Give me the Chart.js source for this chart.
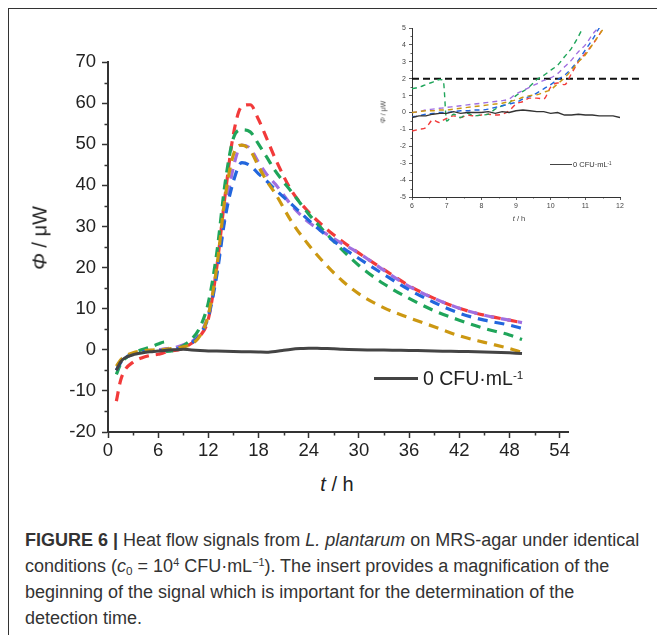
<!DOCTYPE html>
<html>
<head>
<meta charset="utf-8">
<script src="https://cdn.jsdelivr.net/npm/chart.js@4.4.1/dist/chart.umd.min.js"></script>
<style>
  html, body { margin: 0; padding: 0; background: #fff; }
  body { width: 657px; height: 635px; position: relative; overflow: hidden; font-family: "Liberation Sans", Arial, sans-serif; color: #222; }
  .frame { position: absolute; left: 8px; top: 8px; width: 700px; height: 700px; border-left: 1.5px solid #333; border-top: 1.5px solid #333; }
  canvas { position: absolute; }
  #main { left: 0; top: 0; }
  #inset { left: 360px; top: 10px; }
  .lbl { position: absolute; white-space: nowrap; }
  .ytitle { left: 40px; top: 238px; font-size: 20px; transform: translate(-50%, -50%) rotate(-90deg); }
  .xtitle { left: 337px; top: 484px; font-size: 20px; transform: translate(-50%, -50%); }
  .ytitle-s { left: 383px; top: 112px; font-size: 7px; transform: translate(-50%, -50%) rotate(-90deg); color: #444; }
  .xtitle-s { left: 519px; top: 218px; font-size: 7.5px; transform: translate(-50%, -50%); color: #444; }
  .leg { position: absolute; display: flex; align-items: center; white-space: nowrap; }
  .leg .ln { display: inline-block; background: #444; }
  sup { font-size: 0.6em; vertical-align: 0.55em; line-height: 0; }
  sub { font-size: 0.65em; vertical-align: -0.25em; line-height: 0; }
  .caption { position: absolute; left: 25px; top: 527px; font-size: 18px; line-height: 26px; color: #333; white-space: nowrap; }
</style>
</head>
<body>
<div class="frame"></div>
<canvas id="main" width="657" height="470"></canvas>
<canvas id="inset" width="290" height="220"></canvas>

<div class="lbl ytitle"><i>Φ</i> / μW</div>
<div class="lbl xtitle"><i>t</i> / h</div>
<div class="leg" style="left:374px; top:367px; font-size:19.5px; color:#222;">
  <span class="ln" style="width:44px; height:3.5px; margin-right:5px;"></span><span>0 CFU·mL<sup>-1</sup></span>
</div>

<div class="lbl ytitle-s"><i>Φ</i> / μW</div>
<div class="lbl xtitle-s"><i>t</i> / h</div>
<div class="leg" style="left:550px; top:160px; font-size:7.5px; color:#333;">
  <span class="ln" style="width:22px; height:1.5px; margin-right:1px;"></span><span>0 CFU·mL<sup>-1</sup></span>
</div>

<div class="caption">
  <b>FIGURE 6 |</b> Heat flow signals from <i>L. plantarum</i> on MRS-agar under identical<br>
  conditions (<i>c</i><sub>0</sub> = 10<sup>4</sup> CFU·mL<sup>−1</sup>). The insert provides a magnification of the<br>
  beginning of the signal which is important for the determination of the<br>
  detection time.
</div>

<script>
// main plot: heat flow over time (h)
const hours = [1, 1.5, 2, 3, 4, 5, 6, 6.8, 7, 8, 9, 10, 11, 12, 13, 14, 15, 16, 17, 18, 19, 20, 22, 24, 26, 28, 30, 33, 36, 39, 42, 45, 48, 49.5];
const red = [-12.5, -7.5, -5, -3, -2, -1.4, -1.1, -0.6, -0.3, -0.15, 0.4, 1.6, 3.3, 7.5, 20, 37.5, 52.5, 59.2, 59.6, 56, 51.3, 46.5, 38.5, 33.5, 29.6, 26.4, 23.5, 19.5, 15.6, 12.5, 10.1, 8.4, 7.2, 6.6];
const green = [-6, -3.5, -2.2, -0.8, 0, 0.6, 1.4, 1.9, -0.4, -0.1, 1.0, 2.6, 5.5, 11.5, 23.5, 40.5, 51.5, 53.5, 53, 50, 46.8, 43.5, 38.3, 33, 28.5, 24.3, 20.5, 16, 12.5, 9.5, 7.2, 5.2, 3.6, 2.5];
const purple = [-5, -3, -2, -0.9, -0.4, -0.2, 0, 0.25, 0.3, 0.55, 1.2, 2.0, 3.9, 8.5, 19, 33, 44.5, 49.8, 49, 45.6, 42.6, 40.3, 35, 31, 28.3, 25.8, 23.5, 19.3, 15.4, 12.5, 10.1, 8.4, 7.2, 6.6];
const blue = [-5, -3.2, -2.1, -1, -0.5, -0.35, -0.25, -0.05, 0, 0.15, 0.6, 1.65, 3.7, 8, 18, 32, 41, 45.5, 44.8, 42.8, 41, 39, 35.3, 31.5, 28, 24.9, 22.2, 18.3, 14.6, 11.5, 8.9, 7.2, 6, 5.2];
const orange = [-4, -2.5, -1.6, -0.7, -0.3, -0.1, 0, 0.1, 0.15, 0.4, 0.75, 1.35, 3.4, 8.5, 20, 37, 47.5, 49.8, 48.5, 44.6, 41, 38, 31, 25.5, 20.8, 16.8, 13.6, 10.2, 7.8, 5.6, 3.4, 1.8, 0.3, -0.6];
const blankHours = [1, 1.5, 2, 3, 4, 5, 6, 7, 8, 9, 10, 11, 12, 14, 16, 18, 19, 20, 21, 22, 23, 24, 25, 26, 27, 28, 30, 32, 34, 36, 38, 40, 42, 44, 46, 48, 49.5];
const blank = [-5, -3, -2, -1.2, -0.8, -0.5, -0.3, -0.1, 0, 0.1, -0.05, -0.2, -0.3, -0.35, -0.45, -0.55, -0.6, -0.4, -0.1, 0.15, 0.3, 0.4, 0.35, 0.3, 0.25, 0.1, 0, -0.05, -0.1, -0.15, -0.25, -0.35, -0.4, -0.5, -0.6, -0.75, -0.9];

// insert: 6 - 12 h
const insetHours = [6, 6.2, 6.4, 6.6, 6.8, 6.9, 7, 7.2, 7.4, 7.6, 7.8, 8, 8.2, 8.4, 8.6, 8.8, 9, 9.2, 9.4, 9.6, 9.8, 10, 10.2, 10.4, 10.6, 10.8, 11, 11.2, 11.4, 11.6];
const insetRed = [-1.1, -1.0, -0.9, -0.45, -0.6, -0.45, -0.35, -0.2, -0.3, -0.15, -0.2, -0.15, -0.1, -0.15, -0.1, 0.1, 0.5, 0.65, 0.85, 0.85, 0.8, 1.5, 1.75, 1.65, 2.3, 3.0, 3.5, 4.0, 4.6, 5.3];
const insetGreen = [1.4, 1.5, 1.65, 1.8, 1.95, 1.9, -0.5, -0.1, -0.3, -0.05, -0.2, -0.15, -0.1, 0.2, 0.4, 0.55, 1.0, 1.25, 1.55, 1.95, 2.2, 2.5, 2.8, 3.3, 3.8, 4.5, 5.3, 6, 7, 8];
const insetPurple = [0, 0.05, 0.15, 0.2, 0.25, 0.27, 0.3, 0.35, 0.4, 0.45, 0.5, 0.55, 0.6, 0.65, 0.7, 0.8, 1.1, 1.3, 1.5, 1.7, 1.9, 2.05, 2.3, 2.7, 3.1, 3.6, 4.0, 4.6, 5.1, 5.8];
const insetBlue = [-0.25, -0.2, -0.1, -0.05, 0, 0, 0, 0.05, 0.1, 0.1, 0.15, 0.15, 0.2, 0.3, 0.4, 0.5, 0.6, 0.8, 0.95, 1.15, 1.4, 1.65, 1.95, 2.2, 2.6, 3.1, 3.7, 4.3, 5.0, 5.7];
const insetOrange = [0, 0.05, 0.1, 0.1, 0.15, 0.15, 0.15, 0.2, 0.25, 0.3, 0.35, 0.4, 0.45, 0.5, 0.55, 0.65, 0.75, 0.9, 1.0, 1.05, 1.2, 1.35, 1.7, 2.05, 2.5, 3.0, 3.4, 4.0, 4.6, 5.2];
const insetBlankHours = [6, 6.2, 6.4, 6.6, 6.8, 7, 7.2, 7.4, 7.6, 7.8, 8, 8.2, 8.4, 8.6, 8.8, 9, 9.2, 9.4, 9.6, 9.8, 10, 10.2, 10.4, 10.6, 10.8, 11, 11.2, 11.4, 11.6, 11.8, 12];
const insetBlank = [-0.3, -0.2, -0.2, -0.1, -0.05, -0.05, 0.05, -0.05, 0, 0, 0, 0.05, -0.05, 0.05, 0, 0.1, 0.15, 0.1, 0.05, 0.05, -0.05, 0, -0.15, -0.15, -0.1, -0.15, -0.15, -0.2, -0.2, -0.2, -0.3];
const thresholdHours = [6, 12.55];
const threshold = [2, 2];

const mainXTicks = [0, 6, 12, 18, 24, 30, 36, 42, 48, 54];
const mainYTicks = [-20, -10, 0, 10, 20, 30, 40, 50, 60, 70];
const insetXTicks = [6, 7, 8, 9, 10, 11, 12];
const insetYTicks = [-5, -4, -3, -2, -1, 0, 1, 2, 3, 4, 5];

const colors = { red: '#f23a3a', green: '#1fa55a', purple: '#a06fe0', blue: '#2266dd', orange: '#cc9812', blank: '#444' };

Chart.defaults.font.family = '"Liberation Sans", Arial, sans-serif';
Chart.defaults.color = '#222';

function pts(xs, ys) {
  return xs.map((x, i) => ({ x: x, y: ys[i] }));
}

// midpoints between major ticks get a short tick
function halfSteps(ticks) {
  let out = [];
  for (let i = 0; i < ticks.length - 1; i++) out.push((ticks[i] + ticks[i + 1]) / 2);
  return out;
}

const minorTicks = {
  id: 'minorTicks',
  afterDraw(chart, args, opts) {
    const ctx = chart.ctx;
    const xs = chart.scales.x, ys = chart.scales.y;
    ctx.save();
    ctx.strokeStyle = opts.color;
    ctx.lineWidth = opts.width;
    ctx.beginPath();
    opts.x.forEach(v => {
      const px = Math.round(xs.getPixelForValue(v)) + 0.5;
      ctx.moveTo(px, xs.top);
      ctx.lineTo(px, xs.top + opts.len);
    });
    opts.y.forEach(v => {
      const py = Math.round(ys.getPixelForValue(v)) + 0.5;
      ctx.moveTo(ys.right, py);
      ctx.lineTo(ys.right - opts.len, py);
    });
    ctx.stroke();
    ctx.restore();
  }
};

function dashed(data, color, width, dash) {
  return {
    data: data, borderColor: color, borderWidth: width, borderDash: dash,
    pointRadius: 0, fill: false, cubicInterpolationMode: 'monotone'
  };
}

function axes(o) {
  return {
    x: {
      type: 'linear', min: o.xmin, max: o.xmax,
      afterBuildTicks: s => { s.ticks = o.xticks.map(v => ({ value: v })); },
      afterFit: s => { s.height = o.xh; },
      border: { display: true, color: '#333', width: o.axisW },
      grid: { display: true, drawOnChartArea: false, drawTicks: true, tickLength: o.tickLen, tickColor: '#333', tickWidth: o.tickW },
      ticks: { font: { size: o.font }, color: o.tickColor, padding: o.padX, maxRotation: 0, autoSkip: false }
    },
    y: {
      type: 'linear', min: o.ymin, max: o.ymax,
      afterBuildTicks: s => { s.ticks = o.yticks.map(v => ({ value: v })); },
      afterFit: s => { s.width = o.yw; },
      border: { display: true, color: '#333', width: o.axisW },
      grid: { display: true, drawOnChartArea: false, drawTicks: true, tickLength: o.tickLen, tickColor: '#333', tickWidth: o.tickW },
      ticks: { font: { size: o.font }, color: o.tickColor, padding: o.padY, autoSkip: false }
    }
  };
}

new Chart(document.getElementById('main'), {
  type: 'line',
  data: {
    datasets: [
      { data: pts(blankHours, blank), borderColor: colors.blank, borderWidth: 3, pointRadius: 0, fill: false, tension: 0.2 },
      dashed(pts(hours, orange), colors.orange, 3.2, [10, 7]),
      dashed(pts(hours, blue), colors.blue, 3.2, [10, 7]),
      dashed(pts(hours, green), colors.green, 3.2, [10, 7]),
      dashed(pts(hours, purple), colors.purple, 3.2, [10, 7]),
      dashed(pts(hours, red), colors.red, 3.2, [10, 7])
    ]
  },
  options: {
    responsive: false,
    animation: false,
    layout: { padding: { left: 0, top: 62, right: 89, bottom: 0 } },
    plugins: {
      legend: { display: false },
      tooltip: { enabled: false },
      minorTicks: { x: halfSteps(mainXTicks), y: halfSteps(mainYTicks), len: 3.5, width: 1.5, color: '#333' }
    },
    scales: axes({
      xmin: 0, xmax: 55, ymin: -20, ymax: 70, xticks: mainXTicks, yticks: mainYTicks,
      xh: 38, yw: 108, font: 18.5, tickColor: '#222', tickLen: 6, tickW: 1.5, axisW: 2, padX: 2, padY: 6
    })
  },
  plugins: [minorTicks]
});

new Chart(document.getElementById('inset'), {
  type: 'line',
  data: {
    datasets: [
      { data: pts(insetBlankHours, insetBlank), borderColor: '#333', borderWidth: 1.4, pointRadius: 0, fill: false, tension: 0 },
      dashed(pts(insetHours, insetOrange), colors.orange, 1.4, [5, 4]),
      dashed(pts(insetHours, insetBlue), colors.blue, 1.4, [5, 4]),
      dashed(pts(insetHours, insetPurple), colors.purple, 1.4, [5, 4]),
      dashed(pts(insetHours, insetGreen), colors.green, 1.4, [5, 4]),
      dashed(pts(insetHours, insetRed), colors.red, 1.4, [5, 4]),
      { data: pts(thresholdHours, threshold), borderColor: '#111', borderWidth: 2, borderDash: [7, 4], pointRadius: 0, fill: false, clip: false }
    ]
  },
  options: {
    responsive: false,
    animation: false,
    layout: { padding: { left: 0, top: 18, right: 30, bottom: 0 } },
    plugins: {
      legend: { display: false },
      tooltip: { enabled: false },
      minorTicks: { x: halfSteps(insetXTicks), y: halfSteps(insetYTicks), len: 1.5, width: 0.8, color: '#333' }
    },
    scales: axes({
      xmin: 6, xmax: 12, ymin: -5, ymax: 5, xticks: insetXTicks, yticks: insetYTicks,
      xh: 33, yw: 52, font: 7, tickColor: '#444', tickLen: 3, tickW: 0.8, axisW: 1, padX: 2, padY: 3
    })
  },
  plugins: [minorTicks]
});
</script>
</body>
</html>
